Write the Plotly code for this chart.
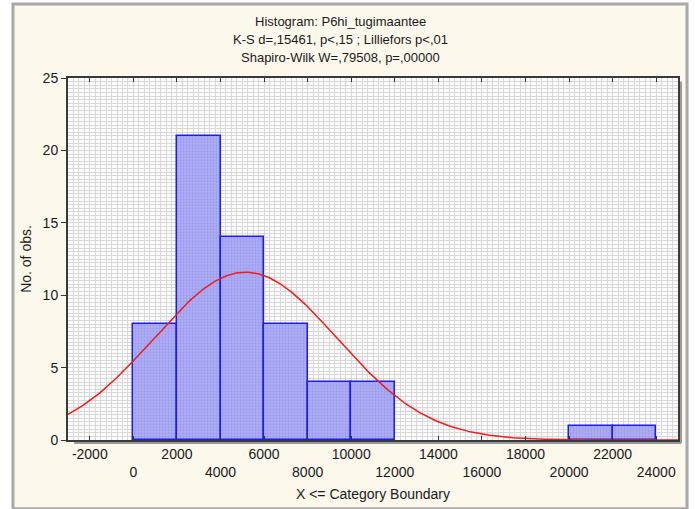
import numpy as np
import plotly.graph_objects as go

# histogram data (category upper boundary -> count)
bin_left = [0, 2000, 4000, 6000, 8000, 10000, 20000, 22000]
counts = [8, 21, 14, 8, 4, 4, 1, 1]
bin_width = 2000

# fitted normal
fit_mean = 5150
fit_sd = 4200
n_obs = sum(counts)

x_ticks = list(range(-2000, 24001, 2000))
y_ticks = [0, 5, 10, 15, 20, 25]

title_lines = [
    "Histogram: P6hi_tugimaantee",
    "K-S d=,15461, p<,15 ; Lilliefors p<,01",
    "Shapiro-Wilk W=,79508, p=,00000",
]

FONT = "Liberation Sans, Arial, sans-serif"

bar_x = [b + bin_width / 2 for b in bin_left]
curve_x = np.linspace(-3000, 25000, 400)
curve_y = n_obs * bin_width / (fit_sd * np.sqrt(2 * np.pi)) * np.exp(-0.5 * ((curve_x - fit_mean) / fit_sd) ** 2)

# alternate tick labels over two rows
tick_text = [str(v) if i % 2 == 0 else "<br>" + str(v) for i, v in enumerate(x_ticks)]

fig = go.Figure()
fig.add_trace(go.Bar(
    x=bar_x, y=counts, width=bin_width,
    marker=dict(color="#b0b0f4", line=dict(color="#1a1aff", width=1.5),
                pattern=dict(shape=".", fgcolor="#8686ea", size=3, solidity=0.45)),
    showlegend=False,
))
fig.add_trace(go.Scatter(
    x=curve_x, y=curve_y, mode="lines",
    line=dict(color="#ee1c1c", width=1.5), showlegend=False,
))

# outer frame and plot-area background
fig.add_shape(type="rect", xref="paper", yref="paper", x0=-0.0902, x1=1.0148, y0=-0.19, y1=1.2044,
              fillcolor="#fdf8ec", line=dict(color="#a8a8a8", width=3), layer="below")
fig.add_shape(type="rect", xref="x domain", yref="y domain", x0=0, x1=1, y0=0, y1=1,
              fillcolor="#fbfbfb", line=dict(width=0), layer="below")
# frame shadow
fig.add_shape(type="line", xref="paper", yref="paper", x0=1.005, x1=1.005, y0=-0.008, y1=0.99,
              line=dict(color="#9a9a9a", width=2))
fig.add_shape(type="line", xref="paper", yref="paper", x0=0.01, x1=1.005, y0=-0.008, y1=-0.008,
              line=dict(color="#9a9a9a", width=2))

for i, line in enumerate(title_lines):
    fig.add_annotation(text=line, xref="paper", yref="paper", x=0.447, y=1.157 - i * 0.0497,
                       showarrow=False, xanchor="center", yanchor="middle",
                       font=dict(family=FONT, size=13, color="#1a1a1a"))

fig.update_layout(
    width=695, height=509,
    margin=dict(l=68, r=17, t=78, b=69),
    paper_bgcolor="white",
    plot_bgcolor="#fbfbfb",
    bargap=0,
    font=dict(family=FONT, size=14, color="#1a1a1a"),
    xaxis=dict(
        range=[-3000, 25000],
        tickvals=x_ticks, ticktext=tick_text,
        ticks="inside", ticklen=4, tickcolor="#333",
        showline=True, linecolor="#3a3a3a", linewidth=2, mirror="ticks",
        showgrid=False, zeroline=False, automargin=False,
        minor=dict(dtick=250, showgrid=True, gridcolor="#d8d8d8", gridwidth=1),
        title=dict(text="X <= Category Boundary", standoff=10, font=dict(size=14)),
    ),
    yaxis=dict(
        range=[0, 25],
        tickvals=y_ticks,
        ticks="outside", ticklen=5, tickcolor="#333",
        showline=True, linecolor="#3a3a3a", linewidth=2, mirror=True,
        showgrid=False, zeroline=False, automargin=False,
        minor=dict(dtick=0.25, showgrid=True, gridcolor="#d8d8d8", gridwidth=1),
        title=dict(text="No. of obs.", standoff=8, font=dict(size=14)),
    ),
)

fig.write_html("out.html", config={"displayModeBar": False},
               post_script="document.body.style.margin='0';")
